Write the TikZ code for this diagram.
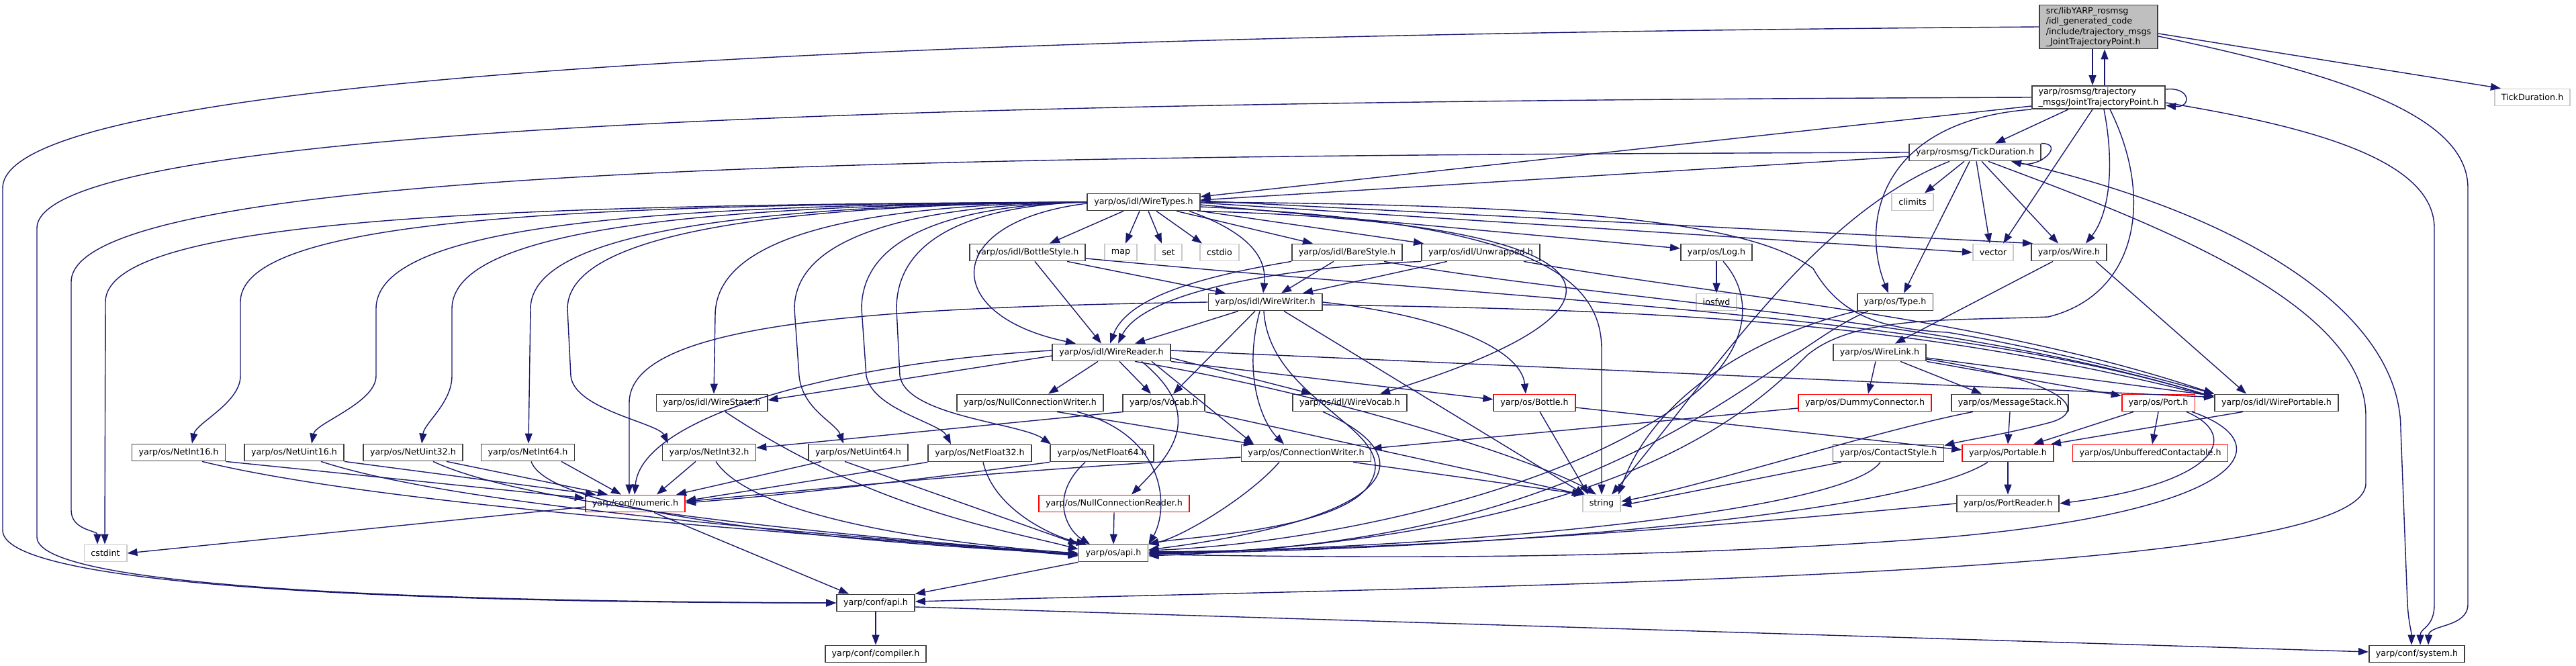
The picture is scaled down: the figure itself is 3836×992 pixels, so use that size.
\documentclass[tikz,border=0pt]{standalone}
\usepackage{fontspec}
\usepackage{xcolor}
\usepackage{tikz}
\usetikzlibrary{arrows.meta, calc}
\newfontfamily\filefont{DejaVu Sans}
\definecolor{linkblue} {HTML}{191970}
\definecolor{rootgray} {HTML}{BFBFBF}
\definecolor{sysgray}  {HTML}{C8C8C8}
\definecolor{missred}  {HTML}{FF0000}
\definecolor{edgegray} {HTML}{404040}
\tikzset{
  file/.style={draw=edgegray, line width=1.8pt, fill=white, inner xsep=10pt, inner ysep=3pt,
    minimum height=25pt, align=left, font={\filefont\fontsize{12.7}{15.5}\selectfont}},
  sysfile/.style={file, draw=sysgray},
  redfile/.style={file, draw=missred},
  rootfile/.style={file, fill=rootgray},
  link/.style={draw=linkblue, line width=1.4pt, -{Triangle[length=15pt,width=11pt]}},
}

\begin{document}
\begin{tikzpicture}[x=1pt,y=-1pt]
\useasboundingbox (0,0) rectangle (3836,992);
% files
\node[rootfile] (src) at (3125,40) {src/libYARP\_rosmsg\\/idl\_generated\_code\\/include/trajectory\_msgs\\\_JointTrajectoryPoint.h};
\node[file] (jtp) at (3125,145) {yarp/rosmsg/trajectory\\\_msgs/JointTrajectoryPoint.h};
\node[sysfile] (tdfile) at (3771,145) {TickDuration.h};
\node[file] (tdur) at (2941,227) {yarp/rosmsg/TickDuration.h};
\node[sysfile] (climits) at (2848,301) {climits};
\node[file] (wiretypes) at (1703,301) {yarp/os/idl/WireTypes.h};
\node[file] (bottlestyle) at (1530,376) {yarp/os/idl/BottleStyle.h};
\node[sysfile] (map) at (1669,376) {map};
\node[sysfile] (set) at (1740,376) {set};
\node[sysfile] (cstdio) at (1816,376) {cstdio};
\node[file] (barestyle) at (2006,376) {yarp/os/idl/BareStyle.h};
\node[file] (unwrapped) at (2205,376) {yarp/os/idl/Unwrapped.h};
\node[file] (log) at (2556,376) {yarp/os/Log.h};
\node[sysfile] (vector) at (2968,376) {vector};
\node[file] (wire) at (3081,376) {yarp/os/Wire.h};
\node[file] (wirewriter) at (1884,450) {yarp/os/idl/WireWriter.h};
\node[sysfile] (iosfwd) at (2556,450) {iosfwd};
\node[file] (type) at (2822,450) {yarp/os/Type.h};
\node[file] (wirereader) at (1655,525) {yarp/os/idl/WireReader.h};
\node[file] (wirelink) at (2799,525) {yarp/os/WireLink.h};
\node[file] (wirestate) at (1060,600) {yarp/os/idl/WireState.h};
\node[file] (ncwriter) at (1534,600) {yarp/os/NullConnectionWriter.h};
\node[file] (vocab) at (1733,600) {yarp/os/Vocab.h};
\node[file] (wirevocab) at (2010,600) {yarp/os/idl/WireVocab.h};
\node[redfile] (bottle) at (2285,600) {yarp/os/Bottle.h};
\node[redfile] (dummy) at (2777,600) {yarp/os/DummyConnector.h};
\node[file] (msgstack) at (2993,600) {yarp/os/MessageStack.h};
\node[redfile] (port) at (3214,600) {yarp/os/Port.h};
\node[file] (wireportable) at (3390,600) {yarp/os/idl/WirePortable.h};
\node[file] (netint16) at (266,674) {yarp/os/NetInt16.h};
\node[file] (netuint16) at (438,674) {yarp/os/NetUint16.h};
\node[file] (netuint32) at (615,674) {yarp/os/NetUint32.h};
\node[file] (netint64) at (786,674) {yarp/os/NetInt64.h};
\node[file] (netint32) at (1056,674) {yarp/os/NetInt32.h};
\node[file] (netuint64) at (1278,674) {yarp/os/NetUint64.h};
\node[file] (netfloat32) at (1459,675) {yarp/os/NetFloat32.h};
\node[file] (netfloat64) at (1641,675) {yarp/os/NetFloat64.h};
\node[file] (connwriter) at (1945,675) {yarp/os/ConnectionWriter.h};
\node[file] (contactstyle) at (2812,675) {yarp/os/ContactStyle.h};
\node[redfile] (portable) at (2990,675) {yarp/os/Portable.h};
\node[redfile] (unbuffered) at (3202,675) {yarp/os/UnbufferedContactable.h};
\node[redfile] (numeric) at (946,750) {yarp/conf/numeric.h};
\node[redfile] (ncreader) at (1659,750) {yarp/os/NullConnectionReader.h};
\node[sysfile] (string) at (2385,750) {string};
\node[file] (portreader) at (2990,750) {yarp/os/PortReader.h};
\node[sysfile] (cstdint) at (157,824) {cstdint};
\node[file] (osapi) at (1658,824) {yarp/os/api.h};
\node[file] (confapi) at (1304,898) {yarp/conf/api.h};
\node[file] (compiler) at (1304,974) {yarp/conf/compiler.h};
\node[file] (system) at (3599,974) {yarp/conf/system.h};
% root and compat header
\draw[link] ([xshift=-9pt]src.south) -- ([xshift=-9pt]jtp.north);
\draw[link] ([xshift=9pt]jtp.north) -- ([xshift=9pt]src.south);
\draw[link] ([yshift=-10pt]src.east) -- ([xshift=10pt]tdfile.north west);
\draw[link] ([yshift=-14pt]src.east) .. controls (3480,110) and (3675,170) .. (3675,280) -- (3675,900) .. controls (3675,935) and (3617,930) .. ([xshift=17pt]system.north);
\draw[link] (src.west) .. controls (1700,50) and (4,90) .. (4,280) -- (4,790) .. controls (4,880) and (700,898) .. (confapi.west);
\draw[link] ([yshift=-6pt]jtp.north east) .. controls +(38,-4) and +(38,4) .. ([yshift=6pt]jtp.south east);
\draw[link] ([yshift=-8pt]jtp.east) .. controls (3450,190) and (3625,240) .. (3625,340) -- (3625,900) .. controls (3625,935) and (3604,935) .. ([xshift=5pt]system.north);
\draw[link] (jtp.west) .. controls (1700,150) and (55,170) .. (55,340) -- (55,800) .. controls (55,880) and (700,896) .. (confapi.west);
\draw[link] ([xshift=-45pt]jtp.south) -- ([xshift=30pt]tdur.north);
\draw[link] ([yshift=-13pt]jtp.west) -- ([yshift=8pt]wiretypes.east);
\draw[link] (jtp.south west) .. controls (2800,180) and (2770,330) .. ([xshift=-10pt]type.north);
\draw[link] ([xshift=-9pt]jtp.south) -- ([xshift=15pt]vector.north);
\draw[link] ([xshift=8pt]jtp.south) .. controls (3150,250) and (3140,320) .. ([xshift=25pt]wire.north);
\draw[link] ([xshift=17pt]jtp.south) .. controls (3210,300) and (3180,440) .. (3050,472) .. controls (2900,478) and (2760,470) .. (2690,530) .. controls (2600,620) and (2400,800) .. ([yshift=-4pt]osapi.east);
% rosmsg TickDuration
\draw[link] (tdur.north east) .. controls +(35,0) and +(45,10) .. ([xshift=-45pt]tdur.south east);
\draw[link] ([yshift=-6pt]tdur.west) -- ([yshift=3pt]wiretypes.east);
\draw[link] ([xshift=-16pt]tdur.south) -- ([xshift=18pt]climits.north);
\draw[link] ([xshift=-8pt]tdur.south) -- ([xshift=13pt]type.north);
\draw[link] ([xshift=2pt]tdur.south) -- ([xshift=-5pt]vector.north);
\draw[link] ([xshift=10pt]tdur.south) -- ([xshift=-16pt]wire.north);
\draw[link] ([xshift=-38pt]tdur.south) .. controls (2700,320) and (2550,560) .. ([xshift=15pt]string.north);
\draw[link] ([xshift=20pt]tdur.south) .. controls (3200,330) and (3523,450) .. (3523,620) -- (3523,720) .. controls (3523,860) and (2300,870) .. ([yshift=2pt]confapi.east);
\draw[link] ([xshift=57pt]tdur.south) .. controls (3350,320) and (3575,470) .. (3575,640) -- (3585,900) .. controls (3587,930) and (3591,940) .. ([xshift=-8pt]system.north);
\draw[link] (tdur.west) .. controls (1500,232) and (106,240) .. (106,420) -- (106,760) .. controls (106,790) and (145,790) .. ([xshift=-12pt]cstdint.north);
% WireTypes
\draw[link] ([xshift=-30pt]wiretypes.south) -- ([xshift=33pt]bottlestyle.north);
\draw[link] ([xshift=-6pt]wiretypes.south) -- ([xshift=7pt]map.north);
\draw[link] ([xshift=7pt]wiretypes.south) -- ([xshift=-10pt]set.north);
\draw[link] ([xshift=19pt]wiretypes.south) -- ([xshift=-26pt]cstdio.north);
\draw[link] ([xshift=49pt]wiretypes.south) -- ([xshift=-51pt]barestyle.north);
\draw[link] (wiretypes.south east) -- ([xshift=-85pt]unwrapped.north);
\draw[link] ([xshift=68pt]wiretypes.south) .. controls (1870,350) and (1886,390) .. ([xshift=-3pt]wirewriter.north);
\draw[link] ([xshift=80pt]wiretypes.south) .. controls (2400,330) and (2500,450) .. ([xshift=45pt]wirevocab.north);
\draw[link] ([yshift=-7pt]wiretypes.east) .. controls (2250,330) and (2385,400) .. (2385,520) -- (string.north);
\draw[link] ([yshift=-4pt]wiretypes.east) -- ([yshift=6pt]log.west);
\draw[link] ([yshift=-1pt]wiretypes.east) -- (vector.west);
\draw[link] ([yshift=2pt]wiretypes.east) -- ([xshift=3pt]wire.north west);
\draw[link] (wiretypes.east) .. controls (2300,305) and (2600,325) .. (2700,400) .. controls (2740,470) and (2800,490) .. (2900,495) .. controls (3050,520) and (3200,560) .. (wireportable.north west);
\draw[link] ([yshift=-2pt]wiretypes.west) .. controls (1400,330) and (1400,470) .. ([xshift=-53pt]wirereader.north);
\draw[link] (wiretypes.west) .. controls (1250,305) and (1065,360) .. (1065,470) -- ([xshift=3pt]wirestate.north);
\draw[link] (wiretypes.west) .. controls (800,305) and (157,320) .. (157,450) -- ([xshift=-1pt]cstdint.north);
\draw[link] (wiretypes.west) .. controls (900,305) and (358,320) .. (358,450) -- (358,560) .. controls (358,600) and (292,630) .. ([xshift=20pt]netint16.north);
\draw[link] (wiretypes.west) .. controls (1000,305) and (560,330) .. (560,460) -- (560,560) .. controls (560,600) and (470,630) .. ([xshift=26pt]netuint16.north);
\draw[link] (wiretypes.west) .. controls (1050,305) and (673,340) .. (673,460) -- (673,560) .. controls (673,600) and (632,630) .. ([xshift=13pt]netuint32.north);
\draw[link] (wiretypes.west) .. controls (1150,305) and (790,340) .. (790,460) -- ([xshift=1pt]netint64.north);
\draw[link] (wiretypes.west) .. controls (1200,305) and (845,340) .. (845,460) -- (850,560) .. controls (855,610) and (980,630) .. ([xshift=-61pt]netint32.north);
\draw[link] (wiretypes.west) .. controls (1400,305) and (1183,340) .. (1183,460) -- (1190,560) .. controls (1195,610) and (1245,630) .. ([xshift=-22pt]netuint64.north);
\draw[link] (wiretypes.west) .. controls (1450,305) and (1283,340) .. (1283,460) -- (1290,560) .. controls (1300,610) and (1400,630) .. ([xshift=-43pt]netfloat32.north);
\draw[link] (wiretypes.west) .. controls (1480,305) and (1335,340) .. (1335,460) -- (1340,560) .. controls (1350,620) and (1520,630) .. ([xshift=-76pt]netfloat64.north);
% idl styles
\draw[link] ([xshift=11pt]bottlestyle.south) -- ([xshift=-15pt]wirereader.north);
\draw[link] ([xshift=59pt]bottlestyle.south) -- ([xshift=-59pt]wirewriter.north);
\draw[link] ([yshift=-9pt]bottlestyle.east) .. controls (2300,450) and (2900,470) .. ([yshift=-5pt]wireportable.north west);
\draw[link] (barestyle.south west) .. controls (1800,410) and (1680,440) .. ([xshift=-2pt]wirereader.north);
\draw[link] ([xshift=-20pt]barestyle.south) -- ([xshift=24pt]wirewriter.north);
\draw[link] ([xshift=55pt]barestyle.south) .. controls (2400,450) and (2900,470) .. ([yshift=-5pt]wireportable.north west);
\draw[link] (unwrapped.south west) .. controls (1880,400) and (1700,440) .. ([xshift=10pt]wirereader.north);
\draw[link] ([xshift=-50pt]unwrapped.south) -- ([xshift=56pt]wirewriter.north);
\draw[link] ([xshift=64pt]unwrapped.south) .. controls (2550,440) and (2950,470) .. (wireportable.north west);
% WireWriter
\draw[link] ([xshift=-40pt]wirewriter.south) -- ([xshift=35pt]wirereader.north);
\draw[link] ([xshift=-15pt]wirewriter.south) -- ([xshift=14pt]vocab.north);
\draw[link] ([xshift=-8pt]wirewriter.south) .. controls (1850,560) and (1880,630) .. ([xshift=-33pt]connwriter.north);
\draw[link] ([xshift=-2pt]wirewriter.south) .. controls (1890,600) and (2090,640) .. (2040,720) .. controls (2000,790) and (1760,800) .. (osapi.north east);
\draw[link] ([xshift=28pt]wirewriter.south) -- ([xshift=-25pt]string.north);
\draw[link] (wirewriter.east) .. controls (2150,470) and (2265,520) .. ([xshift=-13pt]bottle.north);
\draw[link] ([yshift=-4pt]wirewriter.east) .. controls (2500,462) and (2850,480) .. ([yshift=-5pt]wireportable.north west);
\draw[link] (wirewriter.west) .. controls (1300,458) and (937,480) .. (937,600) -- ([xshift=-9pt]numeric.north);
% WireReader
\draw[link] ([yshift=3pt]wirereader.west) .. controls (1250,540) and (955,620) .. ([xshift=-1pt]numeric.north);
\draw[link] ([yshift=-5pt]wirereader.west) -- ([yshift=4pt]wirestate.east);
\draw[link] ([xshift=-20pt]wirereader.south) -- ([xshift=27pt]ncwriter.north);
\draw[link] ([xshift=12pt]wirereader.south) -- ([xshift=-19pt]vocab.north);
\draw[link] ([xshift=60pt]wirereader.south) -- ([xshift=-78pt]connwriter.north);
\draw[link] (wirereader.south east) -- ([yshift=5pt]bottle.west);
\draw[link] ([yshift=-8pt]wirereader.east) -- ([xshift=-57pt]wirevocab.north);
\draw[link] ([xshift=35pt]wirereader.south) .. controls (2000,590) and (2300,690) .. ([xshift=-8pt]string.north);
\draw[link] ([yshift=3pt]wirereader.east) -- ([yshift=-5pt]wireportable.north west);
\draw[link] ([xshift=45pt]wirereader.south) .. controls (1800,620) and (1740,680) .. ([xshift=26pt]ncreader.north);
% os headers
\draw[link] (log.south) -- (iosfwd.north);
\draw[link] ([xshift=10pt]log.south) .. controls (2620,450) and (2600,540) .. (2490,610) .. controls (2300,740) and (1950,810) .. ([yshift=4pt]osapi.east);
\draw[link] (type.south west) .. controls (2650,490) and (2470,570) .. ([xshift=25pt]string.north);
\draw[link] ([xshift=-40pt]type.south) .. controls (2640,520) and (2400,820) .. (osapi.east);
\draw[link] ([xshift=-24pt]wire.south) -- ([xshift=23pt]wirelink.north);
\draw[link] ([xshift=40pt]wire.south) -- ([xshift=-45pt]wireportable.north);
\draw[link] ([xshift=-6pt]wirelink.south) -- ([xshift=5pt]dummy.north);
\draw[link] ([xshift=31pt]wirelink.south) -- ([xshift=-42pt]msgstack.north);
\draw[link] (wirelink.south east) -- ([yshift=-3pt]port.north west);
\draw[link] ([yshift=-8pt]wirelink.east) -- ([yshift=-3pt]wireportable.north west);
\draw[link] ([yshift=-10pt]wirelink.east) .. controls (3090,570) and (3110,615) .. (3050,630) .. controls (2980,648) and (2930,655) .. ([yshift=-2pt]contactstyle.north east);
\draw[link] ([yshift=-8pt]dummy.west) -- ([yshift=7pt]connwriter.east);
\draw[link] (msgstack.south) -- (portable.north);
\draw[link] ([xshift=-55pt]msgstack.south) .. controls (2800,640) and (2550,720) .. ([yshift=3pt]string.east);
\draw[link] ([xshift=-37pt]port.south) -- ([xshift=38pt]portable.north);
\draw[link] (port.south) -- ([xshift=3pt]unbuffered.north);
\draw[link] ([xshift=42pt]port.south) .. controls (3340,650) and (3300,720) .. (portreader.east);
\draw[link] ([xshift=50pt]port.south) .. controls (3400,660) and (3350,760) .. (2900,800) .. controls (2400,840) and (1900,828) .. ([yshift=-2pt]osapi.east);
\draw[link] ([xshift=-50pt]wireportable.south) -- ([xshift=64pt]portable.north);
\draw[link] (portable.south) -- (portreader.north);
\draw[link] ([xshift=-30pt]portable.south) .. controls (2850,760) and (2300,815) .. ([yshift=-1pt]osapi.east);
\draw[link] ([xshift=-12pt]contactstyle.south) .. controls (2750,760) and (2200,815) .. ([yshift=1pt]osapi.east);
\draw[link] ([xshift=-70pt]contactstyle.south) -- ([yshift=-3pt]string.east);
\draw[link] (portreader.west) .. controls (2700,770) and (2200,818) .. ([yshift=2pt]osapi.east);
\draw[link] ([xshift=-40pt]wirevocab.south) .. controls (2120,680) and (2090,770) .. ([yshift=5pt]osapi.east);
\draw[link] (vocab.south east) -- (string.north west);
\draw[link] ([xshift=-60pt]vocab.south) .. controls (1400,640) and (1200,660) .. ([yshift=7pt]netint32.east);
\draw[link] ([xshift=8pt]bottle.south) -- ([xshift=-20pt]string.north);
\draw[link] ([yshift=-7pt]bottle.east) -- ([yshift=5pt]portable.west);
\draw[link] ([xshift=-40pt]connwriter.south) .. controls (1860,740) and (1760,800) .. (osapi.north east);
\draw[link] ([xshift=70pt]connwriter.south) -- ([xshift=3pt]string.north west);
\draw[link] ([yshift=-6pt]connwriter.west) .. controls (1500,700) and (1200,730) .. ([yshift=3pt]numeric.east);
\draw[link] ([xshift=40pt]ncwriter.south) -- ([xshift=-78pt]connwriter.north);
\draw[link] ([xshift=70pt]ncwriter.south) .. controls (1740,650) and (1740,760) .. (osapi.north east);
\draw[link] (ncreader.south) -- (osapi.north);
\draw[link] ([xshift=20pt]wirestate.south) .. controls (1300,760) and (1500,790) .. ([yshift=6pt]osapi.west);
% Net types
\draw[link] (netint16.south east) -- ([yshift=8pt]numeric.west);
\draw[link] ([xshift=35pt]netint16.south) .. controls (600,760) and (1300,800) .. ([yshift=-4pt]osapi.west);
\draw[link] (netuint16.south east) -- ([xshift=-59pt]numeric.north);
\draw[link] ([xshift=40pt]netuint16.south) .. controls (700,760) and (1300,800) .. ([yshift=-3pt]osapi.west);
\draw[link] ([xshift=50pt]netuint32.south) -- ([xshift=-41pt]numeric.north);
\draw[link] ([xshift=30pt]netuint32.south) .. controls (800,760) and (1300,800) .. ([yshift=-2pt]osapi.west);
\draw[link] ([xshift=50pt]netint64.south) -- ([xshift=-21pt]numeric.north);
\draw[link] ([xshift=5pt]netint64.south) .. controls (820,770) and (1300,810) .. ([yshift=-1pt]osapi.west);
\draw[link] ([xshift=-20pt]netint32.south) -- ([xshift=32pt]numeric.north);
\draw[link] ([xshift=10pt]netint32.south) .. controls (1120,770) and (1400,810) .. (osapi.west);
\draw[link] ([xshift=-55pt]netuint64.south) -- ([xshift=61pt]numeric.north);
\draw[link] ([xshift=-20pt]netuint64.south) -- (osapi.north west);
\draw[link] (netfloat32.south west) -- ([yshift=4pt]numeric.east);
\draw[link] ([xshift=5pt]netfloat32.south) .. controls (1480,760) and (1570,800) .. ([xshift=-40pt]osapi.north);
\draw[link] (netfloat64.south west) .. controls (1400,710) and (1200,735) .. ([yshift=1pt]numeric.east);
\draw[link] ([xshift=-25pt]netfloat64.south) .. controls (1560,740) and (1590,790) .. ([xshift=-35pt]osapi.north);
% conf
\draw[link] ([yshift=-5pt]numeric.west) -- (cstdint.east);
\draw[link] ([xshift=28pt]numeric.south) -- ([xshift=-40pt]confapi.north);
\draw[link] (osapi.south west) -- (confapi.north east);
\draw[link] (confapi.south) -- (compiler.north);
\draw[link] ([yshift=-6pt]confapi.east) -- ([yshift=3pt]system.west);
\end{tikzpicture}
\end{document}
